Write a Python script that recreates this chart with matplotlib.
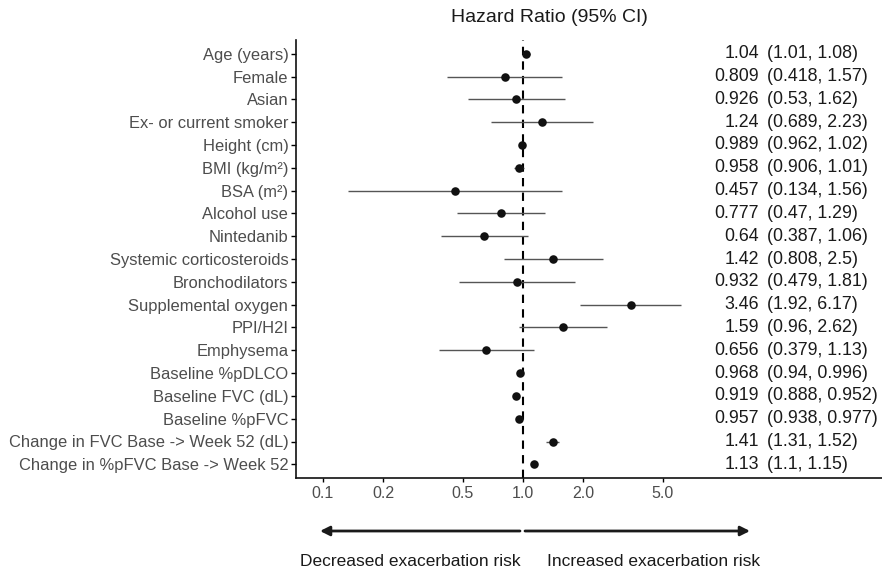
import matplotlib
matplotlib.use("Agg")
import matplotlib.pyplot as plt
import numpy as np

plt.rcParams['font.family'] = ['Liberation Sans', 'DejaVu Sans']

# forest plot data, top row first
labels = ["Age (years)", "Female", "Asian", "Ex- or current smoker", "Height (cm)",
          "BMI (kg/m²)", "BSA (m²)", "Alcohol use", "Nintedanib",
          "Systemic corticosteroids", "Bronchodilators", "Supplemental oxygen",
          "PPI/H2I", "Emphysema", "Baseline %pDLCO", "Baseline FVC (dL)",
          "Baseline %pFVC", "Change in FVC Base -> Week 52 (dL)",
          "Change in %pFVC Base -> Week 52"]
hr = [1.04, 0.809, 0.926, 1.24, 0.989, 0.958, 0.457, 0.777, 0.64, 1.42,
      0.932, 3.46, 1.59, 0.656, 0.968, 0.919, 0.957, 1.41, 1.13]
lo = [1.01, 0.418, 0.53, 0.689, 0.962, 0.906, 0.134, 0.47, 0.387, 0.808,
      0.479, 1.92, 0.96, 0.379, 0.94, 0.888, 0.938, 1.31, 1.1]
hi = [1.08, 1.57, 1.62, 2.23, 1.02, 1.01, 1.56, 1.29, 1.06, 2.5,
      1.81, 6.17, 2.62, 1.13, 0.996, 0.952, 0.977, 1.52, 1.15]
xticks = [0.1, 0.2, 0.5, 1.0, 2.0, 5.0]
xtick_labels = ["0.1", "0.2", "0.5", "1.0", "2.0", "5.0"]

W, H = 882, 571
fig = plt.figure(figsize=(W / 100, H / 100), dpi=100)
ax = fig.add_axes([296 / W, 1 - 478 / H, 1 - 296 / W, 438 / H])

n = len(labels)
y = np.arange(n, 0, -1)

ax.axvline(1.0, color='black', lw=1.5, dashes=(4, 3), zorder=1)
ax.hlines(y, lo, hi, color='#555555', lw=1.0, zorder=2)
ax.scatter(hr, y, s=38, color='#111111', zorder=3, linewidths=0)

ax.set_xscale('log')
ax.set_xlim(10 ** (-227 / 200), 10 ** (359 / 200))
ax.set_ylim(0.4, n + 0.6)
ax.set_xticks(xticks)
ax.set_xticklabels(xtick_labels)
ax.xaxis.set_minor_locator(matplotlib.ticker.NullLocator())
ax.set_yticks(y)
ax.set_yticklabels(labels)

for s in ['top', 'right']:
    ax.spines[s].set_visible(False)
for s in ['left', 'bottom']:
    ax.spines[s].set_linewidth(1.2)
    ax.spines[s].set_color('#111111')
ax.tick_params(axis='y', labelsize=11.9, labelcolor='#4d4d4d', length=3.5, width=1, pad=2)
ax.tick_params(axis='x', labelsize=11.5, labelcolor='#4d4d4d', length=3, width=1, pad=3)

# table of estimates on the right
tr = matplotlib.transforms.blended_transform_factory(fig.transFigure, ax.transData)
for yi, h, l, u in zip(y, hr, lo, hi):
    ax.text(759 / W, yi, f"{h:g}", transform=tr,
            ha='right', va='center', fontsize=12.8, color='#1a1a1a')
    ax.text(767 / W, yi, f"({l:g}, {u:g})", transform=tr,
            ha='left', va='center', fontsize=12.8, color='#1a1a1a')

fig.text(549 / W, 1 - 17 / H, "Hazard Ratio (95% CI)", ha='center', va='center',
         fontsize=14, color='#1a1a1a')

# direction arrows
ay = 1 - 531 / H
ax.annotate("", xy=(320 / W, ay), xytext=(520 / W, ay), xycoords='figure fraction',
            arrowprops=dict(arrowstyle='-|>', lw=2, color='#1a1a1a', mutation_scale=14,
                            shrinkA=0, shrinkB=0))
ax.annotate("", xy=(750 / W, ay), xytext=(525 / W, ay), xycoords='figure fraction',
            arrowprops=dict(arrowstyle='-|>', lw=2, color='#1a1a1a', mutation_scale=14,
                            shrinkA=0, shrinkB=0))
fig.text(521 / W, 1 - 561 / H, "Decreased exacerbation risk", ha='right', va='center',
         fontsize=12.5, color='#1a1a1a')
fig.text(547 / W, 1 - 561 / H, "Increased exacerbation risk", ha='left', va='center',
         fontsize=12.5, color='#1a1a1a')

fig.savefig("out.png", dpi=100)
